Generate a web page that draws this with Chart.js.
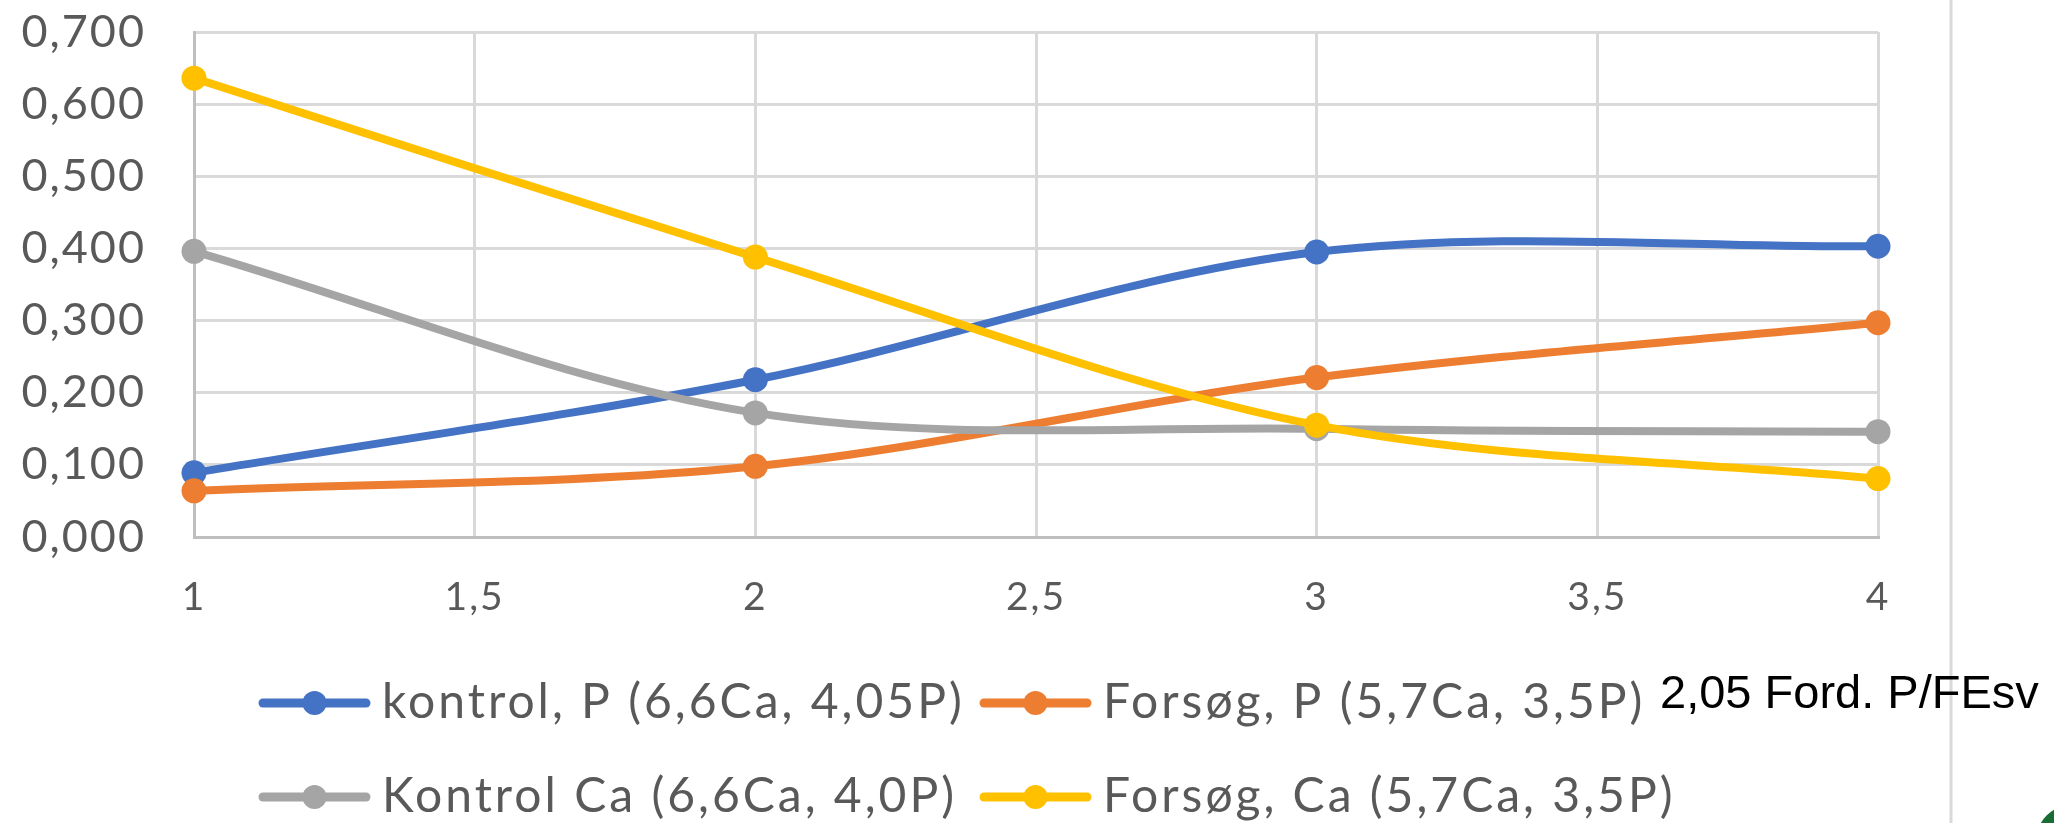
<!DOCTYPE html>
<html>
<head>
<meta charset="utf-8">
<title>P og Ca</title>
<script src="https://cdn.jsdelivr.net/npm/chart.js@4/dist/chart.umd.min.js"></script>
<style>
  html, body { margin: 0; padding: 0; background: #ffffff; }
  #wrap { position: relative; width: 2054px; height: 823px; }
  canvas { display: block; }
</style>
</head>
<body>
<div id="wrap"><canvas id="chart" width="2054" height="823"></canvas></div>
<script>
// Periods on the x axis
const xValues = [1, 2, 3, 4];

// Series values
const kontrolP = [0.089, 0.218, 0.395, 0.403];
const forsogP = [0.064, 0.098, 0.221, 0.297];
const kontrolCa = [0.396, 0.172, 0.150, 0.146];
const forsogCa = [0.636, 0.388, 0.155, 0.081];

// Series names
const seriesNames = [
  'kontrol, P (6,6Ca, 4,05P)',
  'Forsøg, P (5,7Ca, 3,5P)',
  'Kontrol Ca (6,6Ca, 4,0P)',
  'Forsøg, Ca (5,7Ca, 3,5P)'
];

// Side note
const noteText = '2,05 Ford. P/FEsv';

const COLORS = ['#4472C4', '#ED7D31', '#A5A5A5', '#FFC000'];
const LABEL_COLOR = '#595959';
const FONT = 'Lato, "Open Sans", sans-serif';

function toPoints(values) {
  return values.map((v, i) => ({ x: xValues[i], y: v }));
}

const seriesValues = [kontrolP, forsogP, kontrolCa, forsogCa];

const datasets = seriesValues.map((vals, i) => ({
  label: seriesNames[i],
  data: toPoints(vals),
  borderColor: COLORS[i],
  backgroundColor: COLORS[i],
  pointBackgroundColor: COLORS[i],
  pointBorderWidth: 0,
  pointRadius: 12.5,
  borderWidth: 8,
  tension: 0.33,
  fill: false,
  order: 4 - i,
  clip: false
}));

function fmt(v, decimals) {
  return v.toFixed(decimals).replace('.', ',');
}

// Legend in two rows of two, with line-and-dot samples
const legendPlugin = {
  id: 'lineDotLegend',
  afterDraw(chart) {
    const ctx = chart.ctx;
    const colX = [259, 980];
    const rowY = [703, 797];
    const sampleW = 111;
    ctx.save();
    ctx.font = '48px ' + FONT;
    ctx.letterSpacing = '3px';
    ctx.textBaseline = 'middle';
    ctx.textAlign = 'left';
    chart.data.datasets.forEach((ds, i) => {
      const x = colX[i % 2];
      const y = rowY[Math.floor(i / 2)];
      ctx.strokeStyle = ds.borderColor;
      ctx.lineWidth = 9;
      ctx.lineCap = 'round';
      ctx.beginPath();
      ctx.moveTo(x + 4, y);
      ctx.lineTo(x + sampleW - 4, y);
      ctx.stroke();
      ctx.fillStyle = ds.borderColor;
      ctx.beginPath();
      ctx.arc(x + sampleW / 2, y, 12, 0, Math.PI * 2);
      ctx.fill();
      ctx.fillStyle = LABEL_COLOR;
      ctx.fillText(ds.label, x + sampleW + 12, y);
    });
    ctx.restore();
  }
};

// Divider, side note and corner emblem
const decorPlugin = {
  id: 'decor',
  beforeDraw(chart) {
    const ctx = chart.ctx;
    ctx.save();
    ctx.strokeStyle = '#d9d9d9';
    ctx.lineWidth = 3;
    ctx.beginPath();
    ctx.moveTo(1951, 0);
    ctx.lineTo(1951, 823);
    ctx.stroke();
    ctx.restore();
    // slightly wider tick label spacing
    ctx.letterSpacing = '2px';
  },
  afterDraw(chart) {
    const ctx = chart.ctx;
    ctx.save();
    ctx.letterSpacing = '0px';
    ctx.fillStyle = '#000000';
    ctx.font = '47px "Liberation Sans", Arial, sans-serif';
    ctx.textBaseline = 'alphabetic';
    ctx.textAlign = 'left';
    ctx.fillText(noteText, 1660, 708);
    ctx.fillStyle = '#1a6b34';
    ctx.beginPath();
    ctx.arc(2072, 841, 36, 0, Math.PI * 2);
    ctx.fill();
    ctx.restore();
  }
};

new Chart(document.getElementById('chart'), {
  type: 'line',
  data: { datasets },
  plugins: [decorPlugin, legendPlugin],
  options: {
    responsive: false,
    animation: false,
    devicePixelRatio: 1,
    layout: { padding: { top: 32, right: 176, left: 0, bottom: 0 } },
    plugins: {
      legend: { display: false },
      tooltip: { enabled: false }
    },
    scales: {
      x: {
        type: 'linear',
        min: 1,
        max: 4,
        afterFit(scale) {
          scale.height = 286;
          scale.paddingLeft = 0;
          scale.paddingRight = 0;
        },
        ticks: {
          stepSize: 0.5,
          padding: 37,
          color: LABEL_COLOR,
          font: { family: FONT, size: 39 },
          maxRotation: 0,
          callback: (v) => (Number.isInteger(v) ? String(v) : fmt(v, 1))
        },
        grid: { color: '#d9d9d9', lineWidth: 3, drawTicks: false },
        border: { display: true, color: '#bfbfbf', width: 3 }
      },
      y: {
        min: 0,
        max: 0.7,
        afterFit(scale) {
          scale.width = 194;
          scale.paddingTop = 0;
          scale.paddingBottom = 0;
        },
        ticks: {
          stepSize: 0.1,
          padding: 48,
          color: LABEL_COLOR,
          font: { family: FONT, size: 45 },
          callback: (v) => fmt(v, 3)
        },
        grid: { color: '#d9d9d9', lineWidth: 3, drawTicks: false },
        border: { display: true, color: '#bfbfbf', width: 3 }
      }
    }
  }
});
</script>
</body>
</html>
